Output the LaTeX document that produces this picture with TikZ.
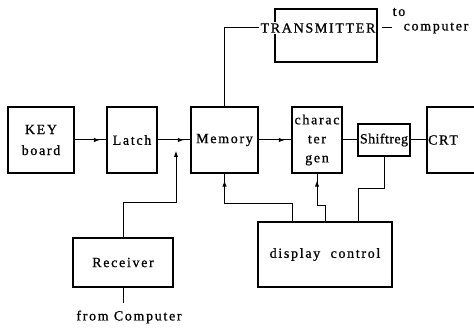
\documentclass[tikz,border=0pt]{standalone}
\usepackage{fontspec}
\setmainfont{Liberation Serif}[LetterSpace=12,FakeBold=0.8]
\usetikzlibrary{arrows.meta,decorations.markings,calc}
\tikzset{
  box/.style={draw, line width=1.4pt, inner sep=0pt, align=center},
  conn/.style={line width=1pt},
  lbl/.style={inner sep=1pt, align=center},
  midarrow/.style={postaction={decorate}, decoration={markings,
     mark=at position #1 with {\arrow{Latex[length=6pt,width=4.5pt]}}}},
  backarrow/.style={postaction={decorate}, decoration={markings,
     mark=at position #1 with {\arrowreversed{Latex[length=6pt,width=4.5pt]}}}},
}
\begin{document}
\begin{tikzpicture}[x=1pt, y=-1pt, font=\fontsize{14}{19}\selectfont]
\useasboundingbox (0,0) rectangle (474,328);
\clip (0,0) rectangle (474,328);
% boxes
\node[box, minimum width=66pt, minimum height=66pt] (key) at (41,140) {KEY\\[2pt]board};
\node[box, minimum width=50pt, minimum height=66pt] (latch) at (132,140) {Latch};
\node[box, minimum width=67pt, minimum height=66pt] (mem) at (224.5,140) {Memory};
\node[box, minimum width=50pt, minimum height=66pt] (cg) at (317,140) {charac\\ter\\gen};
\node[box, minimum width=52pt, minimum height=32pt, font=\fontsize{14}{19}\selectfont\addfontfeature{LetterSpace=3}] (sr) at (384,140) {Shiftreg};
\node[box, minimum width=63pt, minimum height=66pt] (crt) at (458.5,140) {};
\node[lbl] (crtl) at (443,140) {CRT};
\node[box, minimum width=102pt, minimum height=53pt] (tx) at (326,35.5) {};
\node[lbl, fill=white] (txt) at (318,28) {TRANSMITTER};
\node[lbl, inner sep=3pt] (comp) at (436,28) {computer};
\node[lbl] (to) at (399,12) {to};
\node[box, minimum width=100pt, minimum height=49pt] (rc) at (123,262.5) {Receiver};
\node[box, minimum width=134pt, minimum height=65pt] (dc) at (325,254.5) {display\ \ control};
\node[lbl] (fc) at (129,317) {from Computer};
\coordinate (rin) at (176,151);
\coordinate (rcb) at (123,303);
% connectors
\draw[conn, midarrow=0.8] (key.east) -- (latch.west);
\draw[conn, midarrow=0.8] (latch.east) -- (mem.west);
\draw[conn, midarrow=0.8] (mem.east) -- (cg.west);
\draw[conn] (cg.east) -- (sr.west);
\draw[conn] (sr.east) -- (crt.west);
\draw[conn] (mem.north) |- (txt.west);
\draw[conn] ([xshift=5pt]txt.east) -- ([xshift=-8pt]comp.west);
\draw[conn, -{Latex[length=6pt,width=4.5pt]}] (rc.north) -- ++(0,-35) -| (rin);
\draw[conn] (rc.south) -- (rcb);
\draw[conn, backarrow=7pt] (mem.south) -- ++(0,30) -| ([xshift=-33pt]dc.north);
\draw[conn, backarrow=7pt] (cg.south) -- ++(0,32) -| (dc.north);
\draw[conn] (sr.south) -- ++(0,32) -| ([xshift=33pt]dc.north);
\end{tikzpicture}
\end{document}
